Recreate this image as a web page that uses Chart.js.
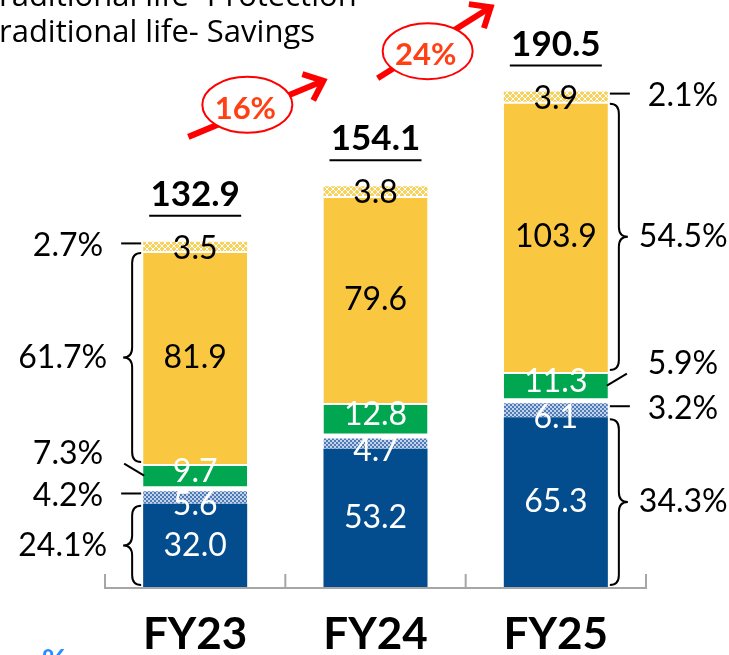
<!DOCTYPE html>
<html>
<head>
<meta charset="utf-8">
<script src="https://cdn.jsdelivr.net/npm/chart.js@4"></script>
<style>
  html, body { margin: 0; padding: 0; background: #fff; }
  #wrap { width: 729px; height: 655px; overflow: hidden; }
</style>
</head>
<body>
<div id="wrap"><canvas id="c" width="729" height="655"></canvas></div>
<script>
// stacked premium mix, FY23-FY25

const years = ['FY23', 'FY24', 'FY25'];
const unitLinked = [32.0, 53.2, 65.3];
const unitLinkedProt = [5.6, 4.7, 6.1];
const groupBiz = [9.7, 12.8, 11.3];
const tradSavings = [81.9, 79.6, 103.9];
const tradProtection = [3.5, 3.8, 3.9];
const totals = ['132.9', '154.1', '190.5'];
const growth = ['16%', '24%'];
const sharesFirst = ['24.1%', '4.2%', '7.3%', '61.7%', '2.7%'];   // left of FY23
const sharesLast = ['34.3%', '3.2%', '5.9%', '54.5%', '2.1%'];    // right of FY25
const legendLines = ['Traditional life- Protection', 'Traditional life- Savings'];

const FONT = 'Lato, "Open Sans", sans-serif';
const BLUE = '#034D8E', GREEN = '#00A650', YELLOW = '#F9C740', RED = '#FF0000';

function pattern(kind) {
  const t = document.createElement('canvas');
  const g = t.getContext('2d');
  if (kind === 'blue') {
    t.width = t.height = 4;
    g.fillStyle = '#4F7AB8'; g.fillRect(0, 0, 4, 4);
    g.fillStyle = '#C3D4EA';
    g.fillRect(0, 0, 2, 2); g.fillRect(2, 2, 2, 2);
  } else {
    t.width = t.height = 6;
    g.fillStyle = '#F8D25F'; g.fillRect(0, 0, 6, 6);
    g.fillStyle = '#FFFFFF';
    for (let i = 0; i < 6; i++) { g.fillRect(i, i, 1, 1); g.fillRect(5 - i, i, 1, 1); }
  }
  return document.createElement('canvas').getContext('2d').createPattern(t, 'repeat');
}

function drawBrace(ctx, x0, y1, y2, dir, w) {
  const xm = x0 + dir * w / 2, xt = x0 + dir * w, ym = (y1 + y2) / 2;
  const r = Math.min(10, (y2 - y1) / 4);
  ctx.beginPath();
  ctx.moveTo(x0, y1);
  ctx.quadraticCurveTo(xm, y1, xm, y1 + r);
  ctx.lineTo(xm, ym - r);
  ctx.quadraticCurveTo(xm, ym, xt, ym);
  ctx.quadraticCurveTo(xm, ym, xm, ym + r);
  ctx.lineTo(xm, y2 - r);
  ctx.quadraticCurveTo(xm, y2, x0, y2);
  ctx.stroke();
}

const shareKind = ['brace', 'line', 'diag', 'brace', 'line'];

function drawShares(chart, barIdx, labels, side) {
  const ctx = chart.ctx;
  ctx.font = `32px ${FONT}`;
  ctx.fillStyle = '#000'; ctx.strokeStyle = '#000'; ctx.lineWidth = 2;
  ctx.textBaseline = 'middle';
  ctx.textAlign = side < 0 ? 'right' : 'left';
  labels.forEach((txt, di) => {
    const bar = chart.getDatasetMeta(di).data[barIdx];
    const edge = bar.x + side * bar.width / 2;
    const top = Math.min(bar.y, bar.base), bot = Math.max(bar.y, bar.base);
    const cy = (top + bot) / 2;
    const kind = shareKind[di];
    if (kind === 'brace') {
      drawBrace(ctx, edge + side * 2, top + 2, bot - 2, side, 18);
      ctx.fillText(txt, edge + side * (side < 0 ? 36 : 31), cy);
    } else if (kind === 'line') {
      ctx.beginPath();
      ctx.moveTo(edge + side * 2, cy - 3); ctx.lineTo(edge + side * 22, cy - 3);
      ctx.stroke();
      ctx.fillText(txt, edge + side * 40, cy - 1);
    } else {
      ctx.beginPath();
      ctx.moveTo(edge - side * 1, cy - 1); ctx.lineTo(edge + side * 19, cy - 13);
      ctx.stroke();
      ctx.fillText(txt, edge + side * 40, cy - 23);
    }
  });
}

// start dx, start dy, tip dx, tip dy, ellipse dx, ellipse dy — relative to gap centre / lower stack top
const arrowGeom = [[-97, -105, 38, -161, -38, -137], [-88, -108, 25, -179, -38, -135]];

function drawArrow(ctx, x1, y1, x2, y2) {
  const a = Math.atan2(y2 - y1, x2 - x1);
  ctx.strokeStyle = RED; ctx.lineWidth = 6; ctx.lineCap = 'butt'; ctx.lineJoin = 'miter';
  ctx.beginPath();
  ctx.moveTo(x1, y1); ctx.lineTo(x2 - 3 * Math.cos(a), y2 - 3 * Math.sin(a));
  ctx.stroke();
  ctx.beginPath();
  ctx.moveTo(x2 - 22 * Math.cos(a - 0.7), y2 - 22 * Math.sin(a - 0.7));
  ctx.lineTo(x2, y2);
  ctx.lineTo(x2 - 22 * Math.cos(a + 0.7), y2 - 22 * Math.sin(a + 0.7));
  ctx.stroke();
}

const decor = {
  id: 'decor',
  beforeDatasetsDraw(chart) {
    const { ctx, chartArea, scales: { x } } = chart;
    const half = (x.getPixelForValue(1) - x.getPixelForValue(0)) / 2;
    const left = x.getPixelForValue(0) - half, yb = chartArea.bottom + 1;
    ctx.save();
    ctx.strokeStyle = '#A6A6A6'; ctx.lineWidth = 2;
    ctx.beginPath();
    ctx.moveTo(left, yb); ctx.lineTo(left + half * 2 * years.length, yb);
    for (let i = 0; i <= years.length; i++) {
      ctx.moveTo(left + i * half * 2, yb + 1); ctx.lineTo(left + i * half * 2, yb - 14);
    }
    ctx.stroke();
    ctx.restore();
  },
  afterDatasetsDraw(chart) {
    const { ctx, scales: { x } } = chart;
    ctx.save();

    // values inside segments
    ctx.font = `32px ${FONT}`;
    ctx.textAlign = 'center'; ctx.textBaseline = 'middle';
    chart.data.datasets.forEach((ds, di) => {
      chart.getDatasetMeta(di).data.forEach((bar, i) => {
        ctx.fillStyle = ds.labelColor;
        ctx.fillText(ds.data[i].toFixed(1), bar.x, (bar.y + bar.base) / 2 + ds.labelShift);
      });
    });

    // totals with underline
    const lastMeta = chart.getDatasetMeta(chart.data.datasets.length - 1);
    const tops = lastMeta.data.map(b => b.y);
    ctx.font = `bold 35px ${FONT}`;
    ctx.textBaseline = 'alphabetic'; ctx.fillStyle = '#000';
    lastMeta.data.forEach((bar, i) => {
      ctx.fillText(totals[i], bar.x, bar.y - 36);
      ctx.strokeStyle = '#000'; ctx.lineWidth = 2;
      ctx.beginPath();
      ctx.moveTo(bar.x - 46, bar.y - 26); ctx.lineTo(bar.x + 46, bar.y - 26);
      ctx.stroke();
    });

    drawShares(chart, 0, sharesFirst, -1);
    drawShares(chart, years.length - 1, sharesLast, 1);

    // growth arrows
    growth.forEach((g, i) => {
      const xm = (x.getPixelForValue(i) + x.getPixelForValue(i + 1)) / 2;
      const t = tops[i];
      const [sx, sy, tx, ty, ex, ey] = arrowGeom[i];
      drawArrow(ctx, xm + sx, t + sy, xm + tx, t + ty);
      ctx.beginPath();
      ctx.ellipse(xm + ex, t + ey, 45, 28, 0, 0, Math.PI * 2);
      ctx.fillStyle = '#fff'; ctx.fill();
      ctx.strokeStyle = RED; ctx.lineWidth = 2; ctx.stroke();
      ctx.font = `bold 31px ${FONT}`;
      ctx.fillStyle = '#FF4015'; ctx.textAlign = 'center'; ctx.textBaseline = 'middle';
      ctx.fillText(g, xm + ex - 2, t + ey + 4);
    });

    // legend remnants, cut at the left edge
    ctx.font = '31px "Open Sans", sans-serif';
    ctx.fillStyle = '#000'; ctx.textAlign = 'left'; ctx.textBaseline = 'alphabetic';
    const tw = ctx.measureText('T').width;
    ctx.fillText(legendLines[0], -tw - 1, 6);
    ctx.fillText(legendLines[1], -tw - 1, 42);

    ctx.font = `bold 30px ${FONT}`;
    ctx.fillStyle = '#2A8CFF';
    ctx.fillText('%', 42, 671);
    ctx.restore();
  }
};

const white = '#FFFFFF';
const datasets = [
  { label: 'Unit linked', data: unitLinked, backgroundColor: BLUE, borderWidth: 0, labelColor: white, labelShift: 0 },
  { label: 'Unit linked- Protection', data: unitLinkedProt, backgroundColor: pattern('blue'),
    borderColor: white, borderWidth: { top: 2, left: 0, right: 0, bottom: 0 }, labelColor: white, labelShift: 8 },
  { label: 'Group', data: groupBiz, backgroundColor: GREEN,
    borderColor: white, borderWidth: { top: 2, left: 0, right: 0, bottom: 3 }, labelColor: white, labelShift: -5 },
  { label: 'Traditional life- Savings', data: tradSavings, backgroundColor: YELLOW,
    borderColor: white, borderWidth: { top: 2, left: 0, right: 0, bottom: 0 }, labelColor: '#000', labelShift: 0 },
  { label: 'Traditional life- Protection', data: tradProtection, backgroundColor: pattern('yellow'),
    borderWidth: 0, labelColor: '#000', labelShift: 2 },
];
datasets.forEach(d => { d.borderSkipped = false; d.barPercentage = 0.577; d.categoryPercentage = 1; });

new Chart(document.getElementById('c'), {
  type: 'bar',
  data: { labels: years, datasets },
  options: {
    responsive: false, animation: false, devicePixelRatio: 1,
    layout: { padding: { left: 105, right: 83, top: 20, bottom: 0 } },
    plugins: { legend: { display: false }, tooltip: { enabled: false } },
    scales: {
      x: {
        stacked: true,
        grid: { display: false }, border: { display: false },
        ticks: { color: '#000', padding: 22, font: { family: FONT, size: 44, weight: 'bold', lineHeight: 0.8 } },
        afterFit(scale) { scale.height = 68; },
      },
      y: { stacked: true, display: false, min: 0, max: 218 },
    },
  },
  plugins: [decor],
});
</script>
</body>
</html>
